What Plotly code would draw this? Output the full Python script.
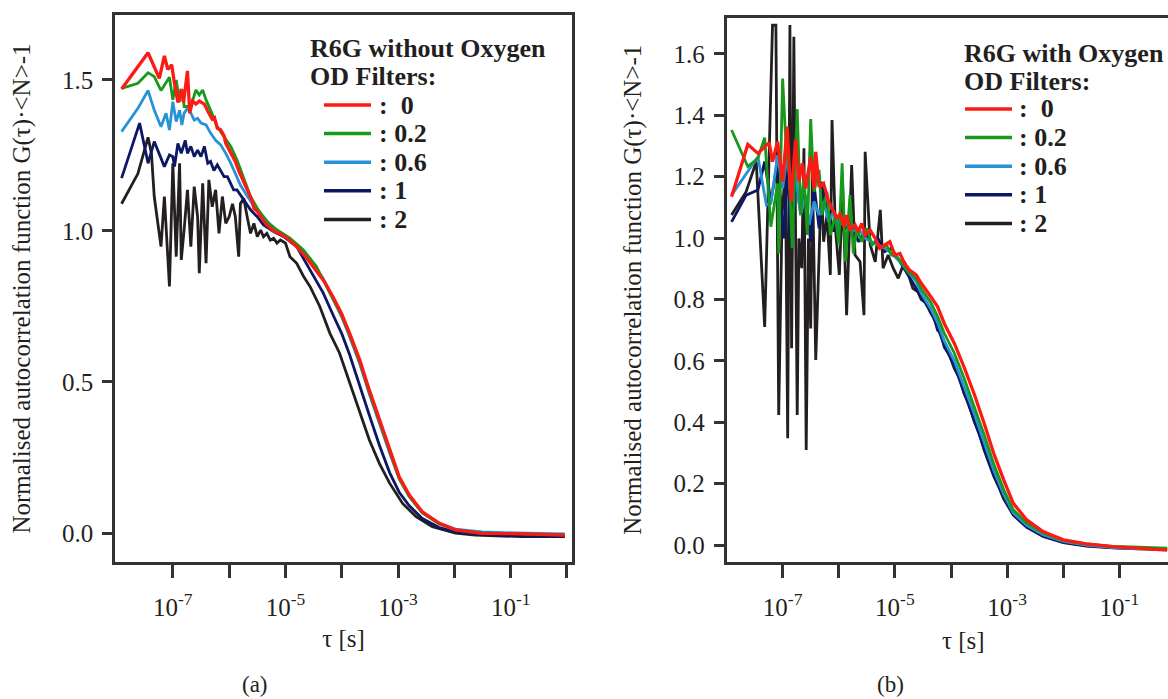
import plotly.graph_objects as go

W, H = 1168, 699

# ---------------- data (log10 of tau in s, normalised G) ----------------
# Panel (a): R6G without oxygen
a_od0_logtau = [-7.91,-7.44,-7.24,-7.15,-7.09,-7.02,-6.98,-6.91,-6.85,-6.81,-6.74,-6.70,-6.65,-6.59,-6.53,-6.44,-6.36,-6.30,-6.26,-6.21,-6.15,-6.09,-6.06,-6.00,-5.94,-5.89,-5.83,-5.77,-5.71,-5.65,-5.59,-5.56,-5.50,-5.41,-5.33,-5.21,-5.09,-4.97,-4.80,-4.62,-4.45,-4.30,-4.15,-4.00,-3.86,-3.68,-3.51,-3.33,-3.15,-2.98,-2.80,-2.57,-2.27,-1.98,-1.51,-0.92,-0.04]
a_od0_g = [1.47,1.59,1.505,1.58,1.535,1.55,1.50,1.425,1.47,1.425,1.53,1.39,1.43,1.42,1.43,1.42,1.39,1.37,1.375,1.34,1.335,1.315,1.29,1.27,1.245,1.23,1.20,1.175,1.15,1.125,1.10,1.075,1.065,1.04,1.02,1.00,0.99,0.976,0.948,0.91,0.865,0.83,0.78,0.725,0.661,0.573,0.473,0.374,0.275,0.186,0.126,0.07,0.032,0.01,-0.001,-0.002,-0.007]

a_od02_logtau = [-7.91,-7.62,-7.44,-7.33,-7.21,-7.06,-7.00,-6.94,-6.88,-6.82,-6.80,-6.68,-6.59,-6.53,-6.47,-6.41,-6.33,-6.21,-6.09,-5.97,-5.86,-5.74,-5.62,-5.50,-5.33,-5.15,-4.92,-4.68,-4.45,-4.21,-4.00,-3.86,-3.68,-3.51,-3.33,-3.15,-2.98,-2.80,-2.57,-2.27,-1.98,-1.51,-0.92,-0.04]
a_od02_g = [1.472,1.489,1.524,1.511,1.465,1.509,1.434,1.50,1.428,1.467,1.412,1.412,1.467,1.45,1.467,1.434,1.40,1.345,1.312,1.28,1.235,1.175,1.114,1.075,1.031,1.003,0.976,0.937,0.882,0.794,0.72,0.655,0.565,0.465,0.366,0.268,0.18,0.12,0.066,0.03,0.01,0.0,-0.002,-0.006]

a_od06_logtau = [-7.91,-7.62,-7.44,-7.33,-7.21,-7.12,-7.06,-7.00,-6.94,-6.88,-6.84,-6.80,-6.74,-6.68,-6.62,-6.56,-6.50,-6.41,-6.33,-6.24,-6.15,-6.06,-5.97,-5.89,-5.80,-5.71,-5.62,-5.50,-5.39,-5.27,-5.15,-4.97,-4.80,-4.56,-4.33,-4.15,-4.00,-3.86,-3.68,-3.51,-3.33,-3.15,-2.98,-2.80,-2.57,-2.27,-1.98,-1.51,-0.92,-0.04]
a_od06_g = [1.329,1.406,1.465,1.40,1.345,1.39,1.334,1.428,1.362,1.40,1.351,1.39,1.406,1.39,1.367,1.373,1.357,1.351,1.324,1.30,1.285,1.257,1.224,1.19,1.152,1.125,1.097,1.064,1.047,1.02,1.003,0.981,0.954,0.904,0.843,0.775,0.715,0.65,0.56,0.46,0.36,0.265,0.18,0.122,0.07,0.033,0.013,0.004,0.0,-0.003]

a_od1_logtau = [-7.91,-7.59,-7.44,-7.33,-7.15,-7.06,-7.00,-6.97,-6.91,-6.85,-6.78,-6.74,-6.68,-6.62,-6.56,-6.50,-6.44,-6.38,-6.33,-6.27,-6.21,-6.15,-6.09,-6.03,-5.97,-5.92,-5.86,-5.80,-5.74,-5.62,-5.50,-5.39,-5.21,-5.03,-4.80,-4.56,-4.33,-4.15,-4.00,-3.86,-3.68,-3.51,-3.33,-3.15,-2.98,-2.80,-2.57,-2.27,-1.98,-1.51,-0.92,-0.04]
a_od1_g = [1.175,1.357,1.224,1.296,1.213,1.252,1.246,1.213,1.29,1.257,1.30,1.257,1.28,1.246,1.268,1.246,1.28,1.224,1.23,1.20,1.219,1.20,1.18,1.18,1.158,1.136,1.136,1.119,1.103,1.07,1.047,1.02,0.998,0.981,0.948,0.87,0.795,0.72,0.66,0.59,0.485,0.39,0.29,0.20,0.135,0.09,0.048,0.018,0.004,-0.004,-0.008,-0.01]

a_od2_logtau = [-7.91,-7.62,-7.44,-7.38,-7.33,-7.21,-7.15,-7.06,-7.00,-6.94,-6.88,-6.85,-6.80,-6.74,-6.68,-6.62,-6.56,-6.53,-6.47,-6.41,-6.36,-6.30,-6.24,-6.18,-6.12,-6.06,-6.00,-5.94,-5.89,-5.83,-5.80,-5.74,-5.68,-5.62,-5.56,-5.50,-5.44,-5.39,-5.33,-5.27,-5.21,-5.15,-5.09,-5.00,-4.92,-4.80,-4.68,-4.56,-4.39,-4.21,-4.04,-3.86,-3.68,-3.51,-3.33,-3.15,-2.92,-2.68,-2.39,-1.98,-1.63,-0.80,-0.04]
a_od2_g = [1.09,1.19,1.31,1.257,1.114,0.948,1.114,0.816,1.224,0.915,1.224,0.904,1.003,1.136,0.948,1.147,1.047,0.86,1.158,0.893,1.169,1.08,1.136,0.992,1.114,1.025,1.047,1.09,1.047,0.915,1.09,1.108,1.047,0.992,1.025,0.981,1.003,0.981,0.992,0.97,0.976,0.96,0.97,0.96,0.915,0.893,0.85,0.815,0.75,0.661,0.596,0.496,0.396,0.308,0.23,0.165,0.098,0.054,0.021,0.0,-0.007,-0.012,-0.012]

# Panel (b): R6G with oxygen
b_od0_logtau = [-7.91,-7.62,-7.44,-7.24,-7.18,-7.09,-7.00,-6.92,-6.85,-6.77,-6.71,-6.65,-6.59,-6.50,-6.44,-6.41,-6.35,-6.27,-6.18,-6.09,-6.03,-5.97,-5.91,-5.86,-5.80,-5.71,-5.65,-5.59,-5.53,-5.44,-5.35,-5.27,-5.18,-5.09,-5.00,-4.91,-4.83,-4.74,-4.62,-4.53,-4.36,-4.24,-4.12,-3.94,-3.77,-3.59,-3.41,-3.24,-3.06,-2.89,-2.65,-2.36,-2.00,-1.59,-1.12,-0.65,-0.15]
b_od0_g = [1.135,1.305,1.276,1.311,1.249,1.314,1.184,1.363,1.119,1.322,1.184,1.244,1.162,1.265,1.162,1.281,1.167,1.178,1.119,1.086,1.064,1.081,1.037,1.075,1.026,1.043,1.021,1.048,1.01,1.026,0.999,0.967,0.978,0.988,0.945,0.95,0.918,0.896,0.88,0.853,0.809,0.777,0.722,0.657,0.581,0.494,0.397,0.299,0.212,0.136,0.082,0.044,0.017,0.004,-0.005,-0.010,-0.016]

b_od02_logtau = [-7.91,-7.62,-7.44,-7.32,-7.21,-7.09,-7.07,-7.00,-6.94,-6.88,-6.83,-6.74,-6.68,-6.62,-6.56,-6.50,-6.44,-6.35,-6.30,-6.21,-6.15,-6.06,-6.00,-5.94,-5.88,-5.80,-5.74,-5.68,-5.59,-5.50,-5.41,-5.33,-5.24,-5.15,-5.06,-4.97,-4.89,-4.77,-4.62,
                 -4.53,-4.36,-4.24,-4.12,-3.94,-3.77,-3.59,-3.41,-3.24,-3.06,-2.89,-2.65,-2.36,-2.00,-1.59,-1.12,-0.65,-0.15]
b_od02_g = [1.352,1.233,1.26,1.327,1.037,1.178,0.95,1.52,1.303,1.206,0.967,1.42,1.075,1.206,1.01,1.388,1.151,1.222,1.075,1.151,1.01,1.075,0.978,1.244,0.923,1.14,0.95,1.032,0.988,1.032,0.978,0.988,0.967,0.978,0.945,0.94,0.923,0.891,0.869,
            0.835,0.79,0.745,0.69,0.625,0.545,0.455,0.36,0.265,0.18,0.115,0.072,0.04,0.015,0.004,-0.004,-0.007,-0.01]

b_od06_logtau = [-7.91,-7.44,-7.29,-7.21,-7.09,-7.00,-6.91,-6.85,-6.77,-6.68,-6.59,-6.53,-6.44,-6.35,-6.27,-6.18,-6.09,-6.00,-5.88,-5.77,-5.65,-5.53,-5.41,-5.30,-5.18,-5.06,-4.91,-4.77,-4.62,
                 -4.53,-4.36,-4.24,-4.12,-3.94,-3.77,-3.59,-3.41,-3.24,-3.06,-2.89,-2.65,-2.36,-2.00,-1.59,-1.12,-0.65,-0.15]
b_od06_g = [1.14,1.265,1.108,1.113,1.27,1.162,1.281,1.119,1.206,1.075,1.14,1.043,1.119,1.075,1.119,1.053,1.086,1.043,1.053,1.021,1.032,0.999,0.988,0.978,0.967,0.95,0.923,0.891,0.858,
            0.82,0.77,0.725,0.665,0.60,0.52,0.43,0.335,0.245,0.165,0.105,0.064,0.034,0.012,0.0,-0.008,-0.012,-0.013]

b_od1_logtau = [-7.91,-7.65,-7.44,-7.32,-7.21,-7.09,-6.98,-6.91,-6.85,-6.77,-6.68,-6.59,-6.50,-6.44,-6.35,-6.27,-6.18,-6.09,-6.00,-5.88,-5.77,-5.65,-5.53,-5.41,-5.30,-5.18,-5.06,-4.91,-4.77,-4.62,
                -4.53,-4.36,-4.24,-4.12,-3.94,-3.77,-3.59,-3.41,-3.24,-3.06,-2.89,-2.65,-2.36,-2.00,-1.59,-1.12,-0.65,-0.15]
b_od1_g = [1.053,1.14,1.157,1.249,1.119,1.249,0.999,1.249,0.978,1.184,1.086,1.14,0.988,1.173,1.032,1.162,1.075,1.021,1.075,1.032,1.053,0.988,1.021,0.978,0.999,0.956,0.967,0.923,0.88,0.836,
           0.81,0.76,0.71,0.65,0.585,0.50,0.41,0.315,0.23,0.155,0.10,0.06,0.03,0.01,-0.002,-0.008,-0.012,-0.014]

b_od2_logtau = [-7.91,-7.65,-7.47,-7.32,-7.18,-7.12,-7.07,-7.01,-6.95,-6.91,-6.87,-6.84,-6.80,-6.77,-6.74,-6.71,-6.66,-6.62,-6.58,-6.54,-6.50,-6.47,-6.41,-6.35,-6.31,-6.27,-6.21,-6.15,-6.12,-6.06,-5.99,-5.93,-5.86,-5.77,-5.71,-5.62,-5.55,-5.53,-5.44,-5.35,-5.26,-5.21,-5.12,-5.03,-4.94,-4.83,-4.74,-4.68,-4.59,
                -4.53,-4.45,-4.36,-4.30,-4.24,-4.18,-4.12,-4.03,-3.94,-3.85,-3.77,-3.68,-3.59,-3.50,-3.41,-3.33,-3.24,-3.15,-3.06,-2.89,-2.65,-2.36,-2.00,-1.59,-1.12,-0.65,-0.15]
b_od2_g = [1.075,1.151,1.249,0.711,1.694,1.694,0.424,1.075,1.227,0.348,1.694,0.641,1.656,0.902,0.424,0.999,0.902,1.293,0.31,0.999,0.706,1.216,0.603,0.945,1.184,0.988,1.075,0.88,1.385,1.032,0.88,1.162,0.749,1.238,0.945,0.923,0.749,1.281,0.978,0.923,1.092,0.902,0.945,0.902,0.869,0.923,0.869,0.836,0.825,
           0.80,0.79,0.755,0.74,0.70,0.69,0.645,0.62,0.575,0.545,0.495,0.46,0.405,0.365,0.31,0.27,0.225,0.19,0.15,0.098,0.058,0.028,0.008,-0.003,-0.009,-0.012,-0.014]

od_labels = [":  0", ": 0.2", ": 0.6", ": 1", ": 2"]
colors = ["#fe1a14", "#17991a", "#2792d6", "#0c1766", "#231f20"]
widths = [3.3, 2.8, 2.8, 2.8, 2.8]
legend_titles = ["R6G without Oxygen", "R6G with Oxygen"]

panel_a = [(a_od0_logtau, a_od0_g), (a_od02_logtau, a_od02_g), (a_od06_logtau, a_od06_g),
           (a_od1_logtau, a_od1_g), (a_od2_logtau, a_od2_g)]
panel_b = [(b_od0_logtau, b_od0_g), (b_od02_logtau, b_od02_g), (b_od06_logtau, b_od06_g),
           (b_od1_logtau, b_od1_g), (b_od2_logtau, b_od2_g)]

FONT = "Liberation Serif"
INK = "#231f20"
AX = "#333333"

fig = go.Figure()
for panel, xa, ya in [(panel_a, "x", "y"), (panel_b, "x2", "y2")]:
    # draw OD 2 first so OD 0 (red) ends up on top
    for i in reversed(range(5)):
        lt, g = panel[i]
        fig.add_trace(go.Scatter(
            x=[10 ** v for v in lt], y=g, mode="lines",
            line=dict(color=colors[i], width=widths[i]),
            name=od_labels[i], xaxis=xa, yaxis=ya, showlegend=False,
        ))

major_x = [1e-7, 1e-5, 1e-3, 1e-1]
major_x_text = ["10<sup>-7</sup>", "10<sup>-5</sup>", "10<sup>-3</sup>", "10<sup>-1</sup>"]
minor_x = [1e-6, 1e-4, 1e-2, 1e0]

ytitle = "Normalised autocorrelation function G(τ)·&lt;N&gt;-1"
XTITLE = "τ [s]"

def xax(domain, rng, title=None):
    d = dict(domain=domain, type="log", range=rng, tickmode="array",
             tickvals=major_x, ticktext=major_x_text, ticks="outside",
             ticklen=13, tickwidth=2.5, tickcolor=AX, showline=True, linecolor=AX,
             linewidth=2.6, mirror=True, showgrid=False, zeroline=False,
             minor=dict(tickmode="array", tickvals=minor_x, ticks="outside", ticklen=13,
                        tickwidth=2.5, tickcolor=AX, showgrid=False),
             tickfont=dict(family=FONT, size=25, color=INK), ticklabelstandoff=8)
    if title:
        d["title"] = dict(text=title, font=dict(family=FONT, size=25, color=INK), standoff=10)
    return d

def yax(domain, rng, vals, mirror):
    return dict(domain=domain, range=rng, tickmode="array", tickvals=vals,
                ticktext=["%.1f" % v for v in vals], ticks="outside", ticklen=10,
                tickwidth=2.5, tickcolor=AX, showline=True, linecolor=AX, linewidth=2.6,
                mirror=mirror, showgrid=False, zeroline=False,
                tickfont=dict(family=FONT, size=25, color=INK), ticklabelstandoff=4,
                title=dict(text=ytitle, font=dict(family=FONT, size=25, color=INK), standoff=25))

# ---- legend blocks (title lines + line swatches + labels), one per panel ----
annotations = []
shapes = []
legend_geom = [  # (title_left, title_y0, swatch_x0, swatch_x1, text_left, item_y0)
    (308, 48, 324, 371, 377, 105),
    (962, 53, 965, 1012, 1017, 109),
]
ROW = 28.6
for p, (tx, ty, sx0, sx1, lx, iy) in enumerate(legend_geom):
    for k, line in enumerate([legend_titles[p], "OD Filters:"]):
        annotations.append(dict(text="<b>%s</b>" % line, x=tx / W, y=1 - (ty + k * 29) / H,
                                xref="paper", yref="paper", xanchor="left", yanchor="middle",
                                showarrow=False, font=dict(family=FONT, size=26, color=INK)))
    for i in range(5):
        yy = 1 - (iy + i * ROW) / H
        shapes.append(dict(type="line", xref="paper", yref="paper", x0=sx0 / W, x1=sx1 / W,
                           y0=yy, y1=yy, line=dict(color=colors[i], width=3.5)))
        annotations.append(dict(text="<b>%s</b>" % od_labels[i].replace("  ", " \u00a0"),
                                x=lx / W, y=yy, xref="paper", yref="paper",
                                xanchor="left", yanchor="middle", showarrow=False,
                                font=dict(family=FONT, size=26, color=INK)))

annotations += [
    # x-axis title of panel (b), centred where the (cropped) axis is centred in the original
    dict(text=XTITLE, x=963 / W, y=1 - 640 / H, xref="paper", yref="paper",
         xanchor="center", yanchor="middle", showarrow=False,
         font=dict(family=FONT, size=25, color=INK)),
    dict(text="(a)", x=255 / W, y=0.0, xref="paper", yref="paper",
         xanchor="center", yanchor="bottom",
         showarrow=False, font=dict(family=FONT, size=23, color=INK)),
    dict(text="(b)", x=890 / W, y=0.0, xref="paper", yref="paper",
         xanchor="center", yanchor="bottom",
         showarrow=False, font=dict(family=FONT, size=23, color=INK)),
]

fig.update_layout(
    width=W, height=H,
    margin=dict(l=0, r=0, t=0, b=0),
    paper_bgcolor="white", plot_bgcolor="white",
    template="none",
    showlegend=False,
    xaxis=dict(anchor="y", **xax([115 / W, 572 / W], [-8.027, 0.089], XTITLE)),
    yaxis=dict(anchor="x", **yax([1 - 562 / H, 1 - 15 / H], [-0.096, 1.715], [0, 0.5, 1.0, 1.5], True)),
    xaxis2=dict(anchor="y2", **xax([726.5 / W, 1.0], [-8.0, -0.134])),
    yaxis2=dict(anchor="x2", **yax([1 - 562 / H, 1 - 17.5 / H], [-0.055, 1.7186],
                                   [0, 0.2, 0.4, 0.6, 0.8, 1.0, 1.2, 1.4, 1.6], False)),
    annotations=annotations,
    shapes=shapes,
)

fig.write_html("out.html")
